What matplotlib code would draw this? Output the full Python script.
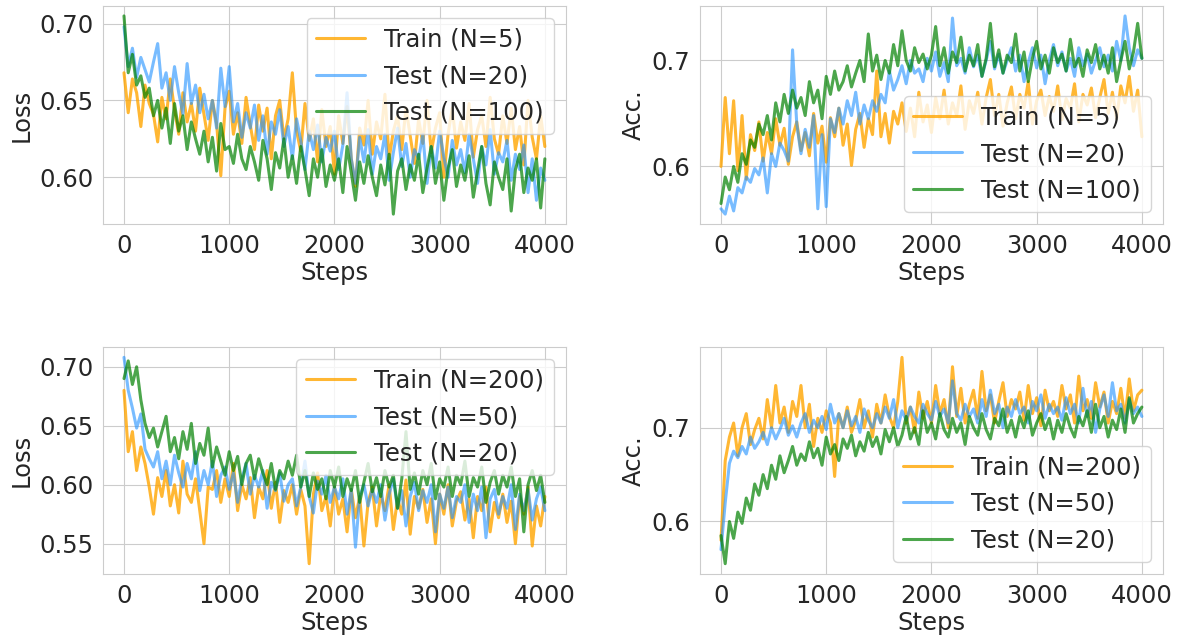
import matplotlib
matplotlib.use("Agg")
import matplotlib.pyplot as plt
import seaborn as sns
import numpy as np

# x axis: one logged value every 40 steps
steps = list(range(0, 4001, 40))

# top row: N=5 train, N=20 / N=100 test
train5_loss = [
    0.668, 0.642, 0.664, 0.655, 0.633, 0.660, 0.648, 0.641, 0.623, 0.652,
    0.638, 0.664, 0.644, 0.628, 0.655, 0.636, 0.648, 0.630, 0.658, 0.641,
    0.624, 0.650, 0.635, 0.601, 0.645, 0.656, 0.628, 0.642, 0.622, 0.652,
    0.634, 0.618, 0.647, 0.630, 0.645, 0.612, 0.640, 0.650, 0.625, 0.638,
    0.668, 0.630, 0.617, 0.648, 0.624, 0.638, 0.610, 0.644, 0.620, 0.633,
    0.602, 0.640, 0.622, 0.646, 0.612, 0.594, 0.632, 0.621, 0.650, 0.615,
    0.636, 0.625, 0.654, 0.612, 0.630, 0.640, 0.618, 0.645, 0.627, 0.609,
    0.638, 0.622, 0.650, 0.616, 0.632, 0.642, 0.600, 0.628, 0.645, 0.619,
    0.636, 0.624, 0.648, 0.613, 0.631, 0.640, 0.620, 0.652, 0.625, 0.615,
    0.640, 0.622, 0.645, 0.618, 0.633, 0.608, 0.650, 0.626, 0.612, 0.640, 0.620]
test20_loss = [
    0.698, 0.672, 0.684, 0.665, 0.678, 0.670, 0.662, 0.675, 0.687, 0.658,
    0.668, 0.650, 0.672, 0.655, 0.641, 0.674, 0.648, 0.660, 0.642, 0.654,
    0.638, 0.650, 0.632, 0.671, 0.646, 0.672, 0.636, 0.648, 0.626, 0.642,
    0.632, 0.647, 0.624, 0.640, 0.615, 0.636, 0.628, 0.644, 0.620, 0.633,
    0.612, 0.638, 0.624, 0.605, 0.630, 0.618, 0.634, 0.610, 0.626, 0.617,
    0.630, 0.605, 0.621, 0.655, 0.612, 0.596, 0.626, 0.610, 0.631, 0.602,
    0.620, 0.612, 0.628, 0.598, 0.616, 0.632, 0.607, 0.622, 0.600, 0.618,
    0.612, 0.628, 0.596, 0.620, 0.606, 0.630, 0.613, 0.600, 0.624, 0.608,
    0.618, 0.603, 0.628, 0.612, 0.596, 0.620, 0.608, 0.631, 0.602, 0.616,
    0.610, 0.624, 0.598, 0.615, 0.605, 0.621, 0.590, 0.612, 0.585, 0.606, 0.598]
test100_loss = [
    0.705, 0.668, 0.680, 0.660, 0.666, 0.652, 0.658, 0.640, 0.650, 0.632,
    0.645, 0.622, 0.648, 0.630, 0.640, 0.618, 0.636, 0.625, 0.615, 0.630,
    0.610, 0.626, 0.604, 0.635, 0.618, 0.620, 0.609, 0.628, 0.612, 0.605,
    0.620, 0.610, 0.598, 0.624, 0.612, 0.592, 0.616, 0.606, 0.625, 0.600,
    0.614, 0.596, 0.620, 0.605, 0.588, 0.612, 0.600, 0.618, 0.594, 0.608,
    0.598, 0.612, 0.590, 0.620, 0.603, 0.585, 0.610, 0.596, 0.614, 0.600,
    0.588, 0.608, 0.595, 0.615, 0.576, 0.604, 0.612, 0.592, 0.608, 0.598,
    0.615, 0.590, 0.606, 0.620, 0.596, 0.610, 0.585, 0.606, 0.618, 0.594,
    0.608, 0.598, 0.614, 0.587, 0.604, 0.620, 0.596, 0.582, 0.610, 0.600,
    0.592, 0.612, 0.578, 0.605, 0.615, 0.590, 0.606, 0.598, 0.612, 0.580, 0.612]

train5_acc = [
    0.600, 0.665, 0.612, 0.662, 0.596, 0.648, 0.588, 0.630, 0.615, 0.642,
    0.605, 0.632, 0.612, 0.645, 0.620, 0.636, 0.602, 0.628, 0.642, 0.615,
    0.632, 0.610, 0.650, 0.622, 0.638, 0.604, 0.646, 0.628, 0.655, 0.620,
    0.640, 0.601, 0.635, 0.650, 0.618, 0.645, 0.630, 0.690, 0.628, 0.650,
    0.622, 0.652, 0.640, 0.660, 0.633, 0.655, 0.628, 0.670, 0.642, 0.658,
    0.632, 0.665, 0.645, 0.672, 0.640, 0.660, 0.648, 0.676, 0.635, 0.662,
    0.650, 0.670, 0.640, 0.665, 0.682, 0.648, 0.668, 0.638, 0.660, 0.675,
    0.645, 0.668, 0.655, 0.680, 0.640, 0.662, 0.672, 0.648, 0.666, 0.652,
    0.676, 0.644, 0.664, 0.655, 0.678, 0.642, 0.668, 0.658, 0.674, 0.646,
    0.665, 0.682, 0.650, 0.670, 0.645, 0.676, 0.660, 0.685, 0.652, 0.672, 0.628]
test20_acc = [
    0.560, 0.555, 0.572, 0.558, 0.580, 0.575, 0.590, 0.585, 0.598, 0.592,
    0.608, 0.575, 0.612, 0.600, 0.622, 0.615, 0.605, 0.710, 0.640, 0.612,
    0.635, 0.618, 0.648, 0.560, 0.630, 0.562, 0.645, 0.632, 0.655, 0.640,
    0.662, 0.648, 0.670, 0.640, 0.658, 0.645, 0.662, 0.652, 0.668, 0.660,
    0.690, 0.672, 0.682, 0.695, 0.678, 0.700, 0.688, 0.692, 0.680, 0.702,
    0.690, 0.708, 0.685, 0.698, 0.680, 0.740, 0.695, 0.702, 0.688, 0.712,
    0.694, 0.705, 0.685, 0.700, 0.718, 0.692, 0.706, 0.688, 0.700, 0.712,
    0.690, 0.705, 0.680, 0.698, 0.712, 0.693, 0.705, 0.678, 0.700, 0.715,
    0.695, 0.708, 0.690, 0.702, 0.685, 0.712, 0.695, 0.706, 0.688, 0.700,
    0.712, 0.694, 0.705, 0.690, 0.718, 0.700, 0.742, 0.712, 0.695, 0.710, 0.702]
test100_acc = [
    0.565, 0.590, 0.578, 0.600, 0.585, 0.612, 0.602, 0.625, 0.618, 0.640,
    0.630, 0.648, 0.625, 0.660, 0.642, 0.668, 0.650, 0.672, 0.655, 0.665,
    0.648, 0.680, 0.660, 0.672, 0.645, 0.685, 0.668, 0.690, 0.672, 0.680,
    0.695, 0.675, 0.688, 0.700, 0.680, 0.725, 0.690, 0.705, 0.682, 0.700,
    0.688, 0.715, 0.695, 0.728, 0.700, 0.690, 0.712, 0.698, 0.706, 0.692,
    0.705, 0.732, 0.695, 0.712, 0.688, 0.708, 0.698, 0.722, 0.690, 0.705,
    0.695, 0.715, 0.685, 0.702, 0.735, 0.694, 0.710, 0.688, 0.705, 0.698,
    0.725, 0.690, 0.708, 0.680, 0.702, 0.718, 0.692, 0.705, 0.688, 0.712,
    0.698, 0.706, 0.690, 0.720, 0.694, 0.702, 0.685, 0.710, 0.698, 0.715,
    0.692, 0.705, 0.688, 0.712, 0.680, 0.700, 0.718, 0.692, 0.708, 0.735, 0.702]

# bottom row: N=200 train, N=50 / N=20 test
train200_loss = [
    0.680, 0.628, 0.645, 0.612, 0.632, 0.618, 0.598, 0.575, 0.606, 0.590,
    0.612, 0.582, 0.600, 0.576, 0.620, 0.592, 0.585, 0.605, 0.578, 0.550,
    0.598, 0.596, 0.612, 0.585, 0.605, 0.590, 0.618, 0.578, 0.600, 0.588,
    0.606, 0.572, 0.598, 0.588, 0.612, 0.580, 0.602, 0.568, 0.595, 0.585,
    0.600, 0.575, 0.596, 0.582, 0.533, 0.592, 0.610, 0.578, 0.590, 0.565,
    0.598, 0.575, 0.588, 0.560, 0.596, 0.572, 0.590, 0.548, 0.585, 0.598,
    0.565, 0.592, 0.578, 0.600, 0.562, 0.588, 0.575, 0.604, 0.558, 0.590,
    0.580, 0.596, 0.568, 0.588, 0.550, 0.592, 0.575, 0.600, 0.565, 0.586,
    0.594, 0.570, 0.588, 0.555, 0.590, 0.578, 0.598, 0.560, 0.585, 0.572,
    0.592, 0.568, 0.586, 0.550, 0.590, 0.575, 0.598, 0.548, 0.582, 0.565, 0.590]
test50_loss = [
    0.708, 0.680, 0.665, 0.648, 0.660, 0.630, 0.622, 0.615, 0.628, 0.605,
    0.620, 0.600, 0.625, 0.610, 0.598, 0.618, 0.605, 0.628, 0.595, 0.612,
    0.600, 0.620, 0.590, 0.608, 0.615, 0.596, 0.610, 0.585, 0.605, 0.618,
    0.592, 0.608, 0.598, 0.612, 0.580, 0.602, 0.595, 0.610, 0.586, 0.600,
    0.605, 0.582, 0.598, 0.620, 0.590, 0.576, 0.603, 0.592, 0.608, 0.585,
    0.598, 0.588, 0.605, 0.575, 0.596, 0.547, 0.590, 0.600, 0.582, 0.596,
    0.585, 0.600, 0.570, 0.592, 0.605, 0.580, 0.595, 0.565, 0.590, 0.602,
    0.578, 0.595, 0.585, 0.600, 0.560, 0.592, 0.580, 0.598, 0.572, 0.590,
    0.585, 0.600, 0.568, 0.592, 0.578, 0.598, 0.555, 0.588, 0.596, 0.575,
    0.590, 0.580, 0.600, 0.562, 0.592, 0.578, 0.596, 0.570, 0.588, 0.598, 0.578]
test20b_loss = [
    0.690, 0.705, 0.685, 0.700, 0.672, 0.652, 0.640, 0.648, 0.632, 0.645,
    0.658, 0.628, 0.640, 0.622, 0.645, 0.630, 0.652, 0.618, 0.635, 0.625,
    0.648, 0.615, 0.632, 0.620, 0.608, 0.628, 0.612, 0.624, 0.600, 0.618,
    0.625, 0.605, 0.622, 0.610, 0.600, 0.618, 0.596, 0.612, 0.605, 0.620,
    0.608, 0.625, 0.598, 0.612, 0.590, 0.610, 0.596, 0.605, 0.588, 0.612,
    0.598, 0.615, 0.590, 0.605, 0.595, 0.612, 0.585, 0.602, 0.618, 0.594,
    0.606, 0.590, 0.612, 0.598, 0.608, 0.580, 0.605, 0.645, 0.596, 0.610,
    0.592, 0.612, 0.600, 0.618, 0.588, 0.605, 0.598, 0.615, 0.590, 0.608,
    0.600, 0.620, 0.590, 0.606, 0.598, 0.615, 0.585, 0.602, 0.612, 0.592,
    0.608, 0.598, 0.615, 0.590, 0.605, 0.560, 0.600, 0.612, 0.595, 0.608, 0.585]

train200_acc = [
    0.580, 0.665, 0.690, 0.705, 0.670, 0.700, 0.715, 0.682, 0.698, 0.710,
    0.688, 0.730, 0.700, 0.745, 0.705, 0.722, 0.695, 0.728, 0.712, 0.745,
    0.700, 0.725, 0.680, 0.710, 0.695, 0.718, 0.705, 0.648, 0.715, 0.700,
    0.722, 0.695, 0.708, 0.730, 0.700, 0.718, 0.690, 0.725, 0.705, 0.735,
    0.712, 0.700, 0.728, 0.775, 0.705, 0.722, 0.695, 0.738, 0.710, 0.728,
    0.705, 0.745, 0.715, 0.730, 0.700, 0.765, 0.712, 0.742, 0.705, 0.725,
    0.740, 0.710, 0.760, 0.718, 0.735, 0.705, 0.728, 0.748, 0.712, 0.730,
    0.720, 0.738, 0.708, 0.745, 0.715, 0.732, 0.702, 0.740, 0.718, 0.728,
    0.712, 0.745, 0.720, 0.735, 0.705, 0.755, 0.718, 0.730, 0.710, 0.748,
    0.722, 0.738, 0.705, 0.728, 0.715, 0.742, 0.710, 0.752, 0.718, 0.735, 0.740]
test50_acc = [
    0.570, 0.620, 0.662, 0.675, 0.668, 0.680, 0.672, 0.690, 0.678, 0.685,
    0.695, 0.682, 0.700, 0.688, 0.698, 0.710, 0.692, 0.702, 0.690, 0.705,
    0.715, 0.695, 0.708, 0.700, 0.712, 0.698, 0.725, 0.705, 0.715, 0.700,
    0.718, 0.702, 0.712, 0.695, 0.720, 0.708, 0.700, 0.715, 0.705, 0.722,
    0.710, 0.730, 0.700, 0.718, 0.708, 0.722, 0.712, 0.705, 0.725, 0.715,
    0.708, 0.728, 0.712, 0.720, 0.705, 0.750, 0.715, 0.708, 0.725, 0.712,
    0.720, 0.705, 0.730, 0.712, 0.740, 0.715, 0.725, 0.700, 0.722, 0.712,
    0.730, 0.715, 0.722, 0.705, 0.728, 0.718, 0.735, 0.710, 0.725, 0.715,
    0.722, 0.708, 0.732, 0.715, 0.725, 0.705, 0.742, 0.712, 0.728, 0.695,
    0.720, 0.735, 0.712, 0.748, 0.718, 0.725, 0.705, 0.730, 0.715, 0.722, 0.712]
test20b_acc = [
    0.585, 0.555, 0.600, 0.582, 0.610, 0.598, 0.625, 0.612, 0.640, 0.628,
    0.650, 0.635, 0.660, 0.645, 0.670, 0.652, 0.665, 0.680, 0.660, 0.672,
    0.665, 0.685, 0.668, 0.678, 0.660, 0.690, 0.672, 0.682, 0.665, 0.688,
    0.678, 0.692, 0.670, 0.685, 0.675, 0.695, 0.680, 0.690, 0.672, 0.698,
    0.685, 0.700, 0.680, 0.692, 0.712, 0.688, 0.700, 0.682, 0.718, 0.695,
    0.705, 0.688, 0.715, 0.698, 0.690, 0.710, 0.695, 0.705, 0.682, 0.712,
    0.700, 0.692, 0.715, 0.698, 0.688, 0.710, 0.702, 0.720, 0.695, 0.708,
    0.690, 0.712, 0.700, 0.718, 0.692, 0.705, 0.715, 0.698, 0.710, 0.688,
    0.708, 0.695, 0.715, 0.700, 0.690, 0.712, 0.702, 0.718, 0.695, 0.725,
    0.700, 0.712, 0.690, 0.708, 0.698, 0.720, 0.695, 0.732, 0.705, 0.715, 0.722]

sns.set_style("whitegrid")
plt.rcParams["font.family"] = ["DejaVu Sans"]
plt.rcParams["font.size"] = 17.5

colors = ["orange", "dodgerblue", "green"]
alphas = [0.8, 0.6, 0.7]

fig = plt.figure(figsize=(11.78, 6.41), dpi=100)
boxes = [[0.0874, 0.6505, 0.3930, 0.3401], [0.5942, 0.6505, 0.3930, 0.3401],
         [0.0874, 0.1045, 0.3930, 0.3541], [0.5942, 0.1045, 0.3930, 0.3541]]

panels = [
    ([train5_loss, test20_loss, test100_loss], ["Train (N=5)", "Test (N=20)", "Test (N=100)"], "Loss", "upper right"),
    ([train5_acc, test20_acc, test100_acc], ["Train (N=5)", "Test (N=20)", "Test (N=100)"], "Acc.", "lower right"),
    ([train200_loss, test50_loss, test20b_loss], ["Train (N=200)", "Test (N=50)", "Test (N=20)"], "Loss", "upper right"),
    ([train200_acc, test50_acc, test20b_acc], ["Train (N=200)", "Test (N=50)", "Test (N=20)"], "Acc.", "lower right"),
]

for box, (series, labels, ylab, loc) in zip(boxes, panels):
    ax = fig.add_axes(box)
    for ys, lab, c, a in zip(series, labels, colors, alphas):
        ax.plot(steps, ys, color=c, alpha=a, lw=2.2, label=lab)
    ax.set_xticks([0, 1000, 2000, 3000, 4000])
    ax.set_xlabel("Steps", labelpad=2)
    ax.set_ylabel(ylab)
    ax.legend(loc=loc, framealpha=0.8)

fig.savefig("out.png", dpi=100)
